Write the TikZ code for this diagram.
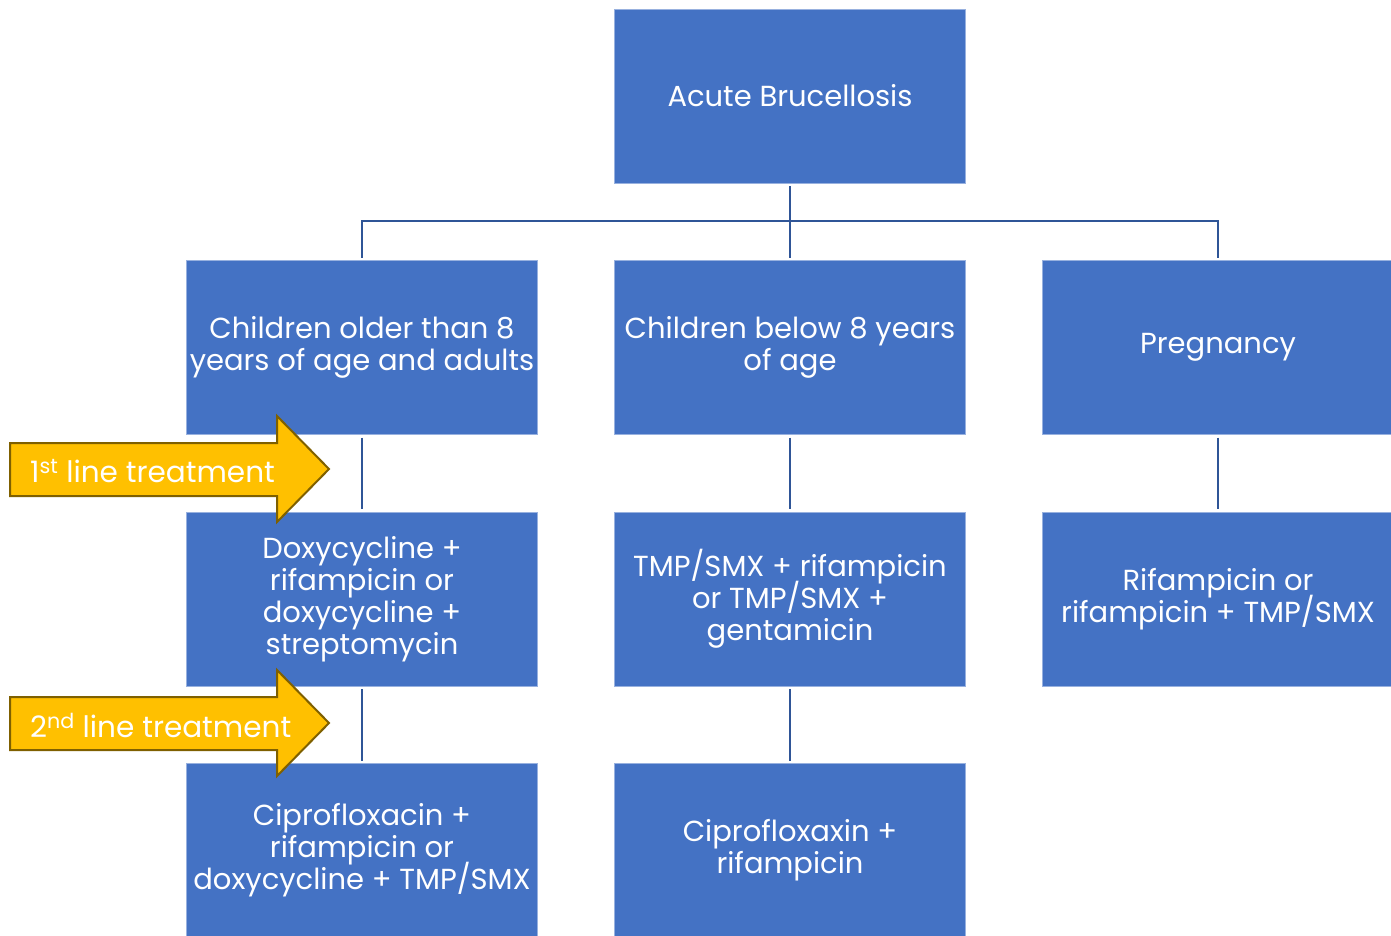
\documentclass[tikz,border=0pt]{standalone}
\usepackage{fontspec}
\setmainfont{Poppins}
\usetikzlibrary{positioning}

\definecolor{boxblue}{HTML}{4472C4}
\definecolor{linkblue}{HTML}{2F5597}
\definecolor{tagfill}{HTML}{FFC000}
\definecolor{tagedge}{HTML}{7F6000}
\newcommand{\boxfont}{\fontsize{29}{32}\selectfont\lineskiplimit=-20pt\relax}

\begin{document}
\begin{tikzpicture}[
	x=1pt, y=1pt,
	node distance=77.5pt and 77pt,
	box/.style={rectangle, draw=boxblue!55!white, line width=0.8pt, fill=boxblue, text=white, minimum width=351pt, minimum height=174pt, inner sep=1pt, outer sep=0pt, align=center, font=\boxfont},
	link/.style={draw=linkblue, line width=2pt, shorten <=3pt, shorten >=3pt},
	tag/.style={draw=tagedge, line width=2pt, fill=tagfill, line join=miter},
	tagtext/.style={text=white, inner sep=0pt, anchor=west, font=\fontsize{29.5}{32}\selectfont}
	]
	\useasboundingbox (0,0) rectangle (1391,-935);
	
	% --- BOXES ---
	\node[box] (acute) at (790,-96) {Acute Brucellosis};
	\node[box, below=of acute] (younger) {Children below 8 years\\of age};
	\node[box, left=of younger] (older) {Children older than 8\\years of age and adults};
	\node[box, right=of younger] (preg) {Pregnancy};
	\node[box, below=of older] (olderfirst) {Doxycycline +\\rifampicin or\\doxycycline +\\streptomycin};
	\node[box, below=of younger] (youngerfirst) {TMP/SMX + rifampicin\\or TMP/SMX +\\gentamicin};
	\node[box, below=of preg] (pregfirst) {Rifampicin or\\rifampicin + TMP/SMX};
	\node[box, below=of olderfirst] (oldersecond) {Ciprofloxacin +\\rifampicin or\\doxycycline + TMP/SMX};
	\node[box, below=of youngerfirst] (youngersecond) {Ciprofloxaxin +\\rifampicin};
	
	% --- LINKS ---
	\coordinate (bus) at ([yshift=-38pt]acute.south);
	\draw[link] (acute) -- (younger);
	\draw[link] (older.north) |- (bus) -| (preg.north);
	\draw[link] (older) -- (olderfirst);
	\draw[link] (younger) -- (youngerfirst);
	\draw[link] (preg) -- (pregfirst);
	\draw[link] (olderfirst) -- (oldersecond);
	\draw[link] (youngerfirst) -- (youngersecond);
	
	% --- TREATMENT LINE ARROWS ---
	\draw[tag] (10,-443) -- (277,-443) -- (277,-416) -- (329,-469) -- (277,-522) -- (277,-496) -- (10,-496) -- cycle;
	\node[tagtext] (firstline) at (30,-471) {1\textsuperscript{st} line treatment};
	\draw[tag] (10,-697) -- (277,-697) -- (277,-670) -- (329,-723) -- (277,-776) -- (277,-750) -- (10,-750) -- cycle;
	\node[tagtext] (secondline) at (30,-725) {2\textsuperscript{nd} line treatment};
	
\end{tikzpicture}
\end{document}
